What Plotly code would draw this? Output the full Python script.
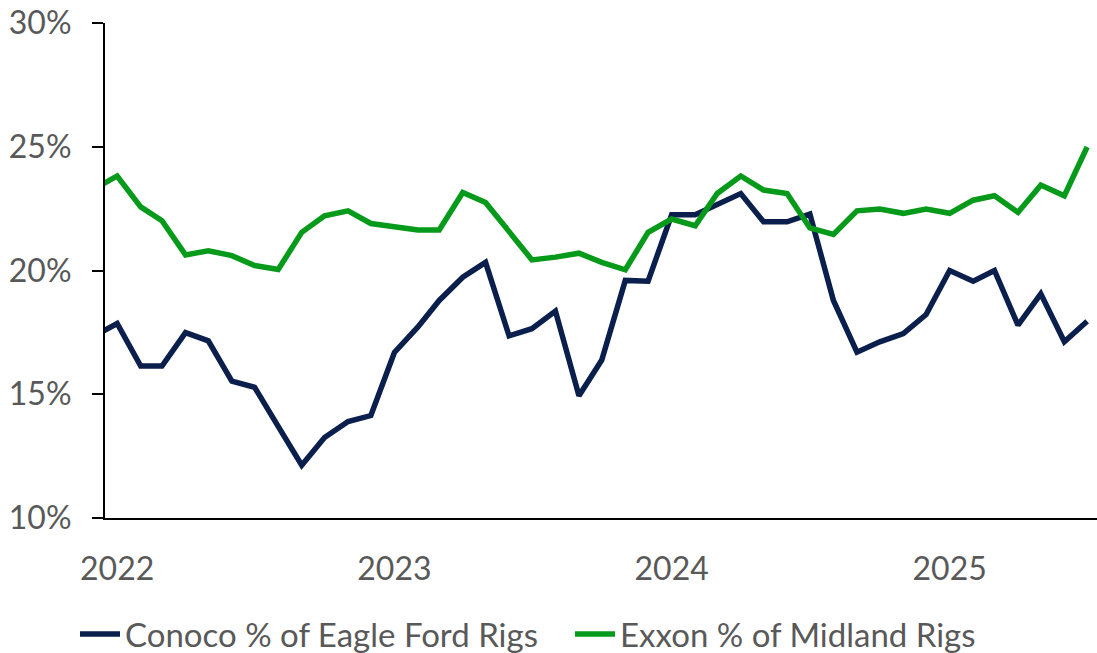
import plotly.graph_objects as go

months = ["2021-12-01"] + [f"{y}-{m:02d}-01" for y in range(2022, 2026) for m in range(1, 13)]
months = months[:44]  # Dec 2021 .. Jul 2025

conoco = [17.34, 17.86, 16.14, 16.14, 17.49, 17.16, 15.53, 15.28, 13.70, 12.13, 13.25, 13.90,
          14.14, 16.69, 17.72, 18.79, 19.73, 20.33, 17.36, 17.65, 18.36, 14.94, 16.38, 19.60,
          19.57, 22.25, 22.25, 22.68, 23.11, 21.97, 21.97, 22.28, 18.79, 16.70, 17.12, 17.45,
          18.22, 20.00, 19.57, 20.00, 17.79, 19.06, 17.12, 17.95]

exxon = [23.28, 23.82, 22.57, 22.01, 20.63, 20.80, 20.60, 20.20, 20.04, 21.54, 22.21, 22.41,
         21.90, 21.77, 21.64, 21.64, 23.15, 22.75, 21.61, 20.43, 20.54, 20.70, 20.33, 20.03,
         21.54, 22.08, 21.81, 23.11, 23.82, 23.25, 23.11, 21.72, 21.46, 22.41, 22.48, 22.31,
         22.48, 22.31, 22.84, 23.02, 22.35, 23.45, 23.02, 24.99]

series_names = ["Conoco % of Eagle Ford Rigs", "Exxon % of Midland Rigs"]
colors = ["#0B1F4D", "#069A1B"]

year_ticks = ["2022-01-01", "2023-01-01", "2024-01-01", "2025-01-01"]
year_labels = ["2022", "2023", "2024", "2025"]
y_ticks = [10, 15, 20, 25, 30]
y_labels = ["10%", "15%", "20%", "25%", "30%"]

FONT = "Lato"
GRAY = "#595959"
FS = 32

fig = go.Figure()
for name, vals, col in zip(series_names, [conoco, exxon], colors):
    fig.add_trace(go.Scatter(x=months, y=vals, mode="lines", name=name,
                             line=dict(color=col, width=5.5)))

fig.update_layout(
    width=1097, height=653,
    margin=dict(l=105, r=0, t=23, b=135, autoexpand=False),
    paper_bgcolor="white", plot_bgcolor="white",
    font=dict(family=FONT, size=FS, color=GRAY),
    showlegend=True,
    legend=dict(orientation="h", xref="container", yref="container",
                x=0.5196, xanchor="center", y=0.029, yanchor="middle",
                font=dict(family=FONT, size=33, color=GRAY),
                entrywidth=440, entrywidthmode="pixels",
                itemwidth=40, tracegroupgap=0, bgcolor="rgba(0,0,0,0)"),
    xaxis=dict(type="date", range=["2021-12-16", "2025-07-14"],
               tickvals=year_ticks, ticktext=year_labels,
               showgrid=False, zeroline=False, ticks="",
               showline=True, linecolor="black", linewidth=2,
               ticklabelstandoff=22, ticklabeloverflow="allow",
               tickfont=dict(family=FONT, size=FS, color=GRAY)),
    yaxis=dict(range=[10, 30], tickvals=y_ticks, ticktext=y_labels,
               showgrid=False, zeroline=False,
               ticks="outside", ticklen=11, tickwidth=2, tickcolor="black",
               showline=True, linecolor="black", linewidth=2,
               ticklabelstandoff=14, ticklabeloverflow="allow",
               tickfont=dict(family=FONT, size=FS, color=GRAY)),
)

fig.write_html("out.html",
               config={"displayModeBar": False},
               post_script="document.body.style.margin='0';document.body.style.overflow='hidden';")
